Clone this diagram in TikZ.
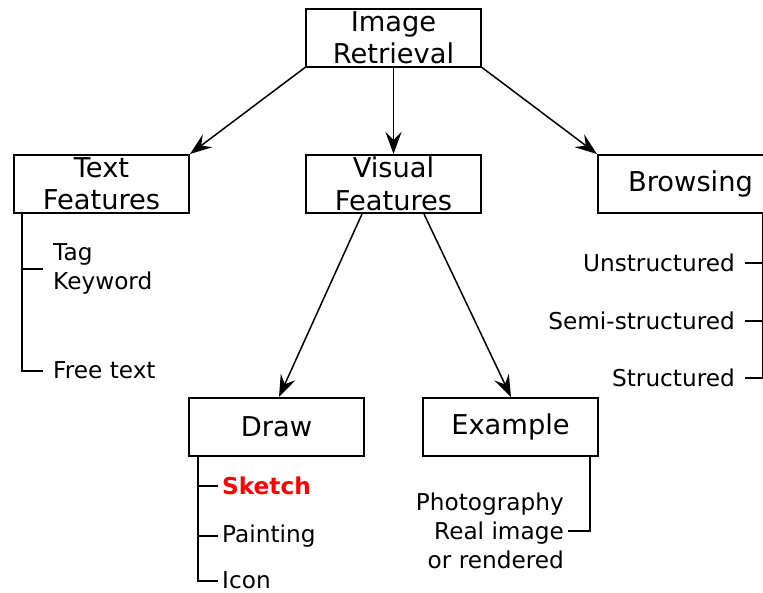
\documentclass[tikz,border=0pt]{standalone}
\usepackage{fontspec}
\setmainfont{DejaVu Sans}
\usetikzlibrary{arrows.meta}
\tikzset{
  box/.style={draw, line width=2pt, minimum width=175pt, minimum height=58pt,
    inner sep=0pt, align=center, font=\fontsize{27.3}{32.4}\selectfont},
  leaf/.style={inner sep=0pt, font=\fontsize{23.2}{29}\selectfont},
  arr/.style={line width=1.5pt, -{Stealth[length=22pt, width=16pt, inset=8pt]}},
  branch/.style={line width=2pt},
}
\begin{document}
\begin{tikzpicture}[x=1pt, y=-1pt]
\useasboundingbox (0,0) rectangle (763,592);
% main boxes
\node[box] (ir) at (393.5,37.5) {Image\\Retrieval};
\node[box] (tf) at (101.5,184) {Text\\Features};
\node[box] (vf) at (393.5,184) {Visual\\Features};
\node[box, minimum width=185pt] (br) at (690.5,184) {Browsing};
\node[box] (dr) at (276.5,427) {\raisebox{-1.5pt}{Draw}};
\node[box] (ex) at (510.5,427) {\raisebox{-1.5pt}{Example}};
% arrows
\draw[arr] (ir.south west) -- (tf.north east);
\draw[arr] (ir.south) -- (vf.north);
\draw[arr] (ir.south east) -- (br.north west);
\draw[arr] ([xshift=57pt]vf.south west) -- ([xshift=2.5pt]dr.north);
\draw[arr] ([xshift=-58pt]vf.south east) -- ([xshift=0.5pt]ex.north);
% text features leaves
\node[leaf, anchor=west, align=left] (tag) at (53,269) {Tag\\Keyword};
\node[leaf, anchor=west] (free) at (53,370.5) {Free text};
\draw[branch] ([xshift=9pt]tf.south west) |- ([xshift=-10pt]free.west);
\draw[branch] ([xshift=9pt]tf.south west |- tag.west) -- ([xshift=-10pt]tag.west);
% browsing leaves
\node[leaf, anchor=east] (uns) at (735,263) {Unstructured};
\node[leaf, anchor=east] (semi) at (735,321) {Semi-structured};
\node[leaf, anchor=east] (str) at (735,378) {Structured};
\coordinate (brx) at (763,213);
\draw[branch] (brx) |- ([xshift=10pt]str.east);
\draw[branch] (brx |- uns.east) -- ([xshift=10pt]uns.east);
\draw[branch] (brx |- semi.east) -- ([xshift=10pt]semi.east);
% draw leaves
\node[leaf, anchor=west, text=red, font=\fontsize{23.2}{29}\selectfont\bfseries] (sk) at (222,486) {Sketch};
\node[leaf, anchor=west] (pa) at (222,536) {Painting};
\node[leaf, anchor=west] (ic) at (222,580.5) {Icon};
\draw[branch] ([xshift=10pt]dr.south west) |- ([xshift=-4pt]ic.west);
\draw[branch] ([xshift=10pt]dr.south west |- sk.west) -- ([xshift=-4pt]sk.west);
\draw[branch] ([xshift=10pt]dr.south west |- pa.west) -- ([xshift=-4pt]pa.west);
% example leaves
\node[leaf, anchor=east, align=right] (ph) at (564,531) {Photography\\Real image\\or rendered};
\draw[branch] ([xshift=-9pt]ex.south east) |- ([xshift=4pt]ph.east);
\end{tikzpicture}
\end{document}
